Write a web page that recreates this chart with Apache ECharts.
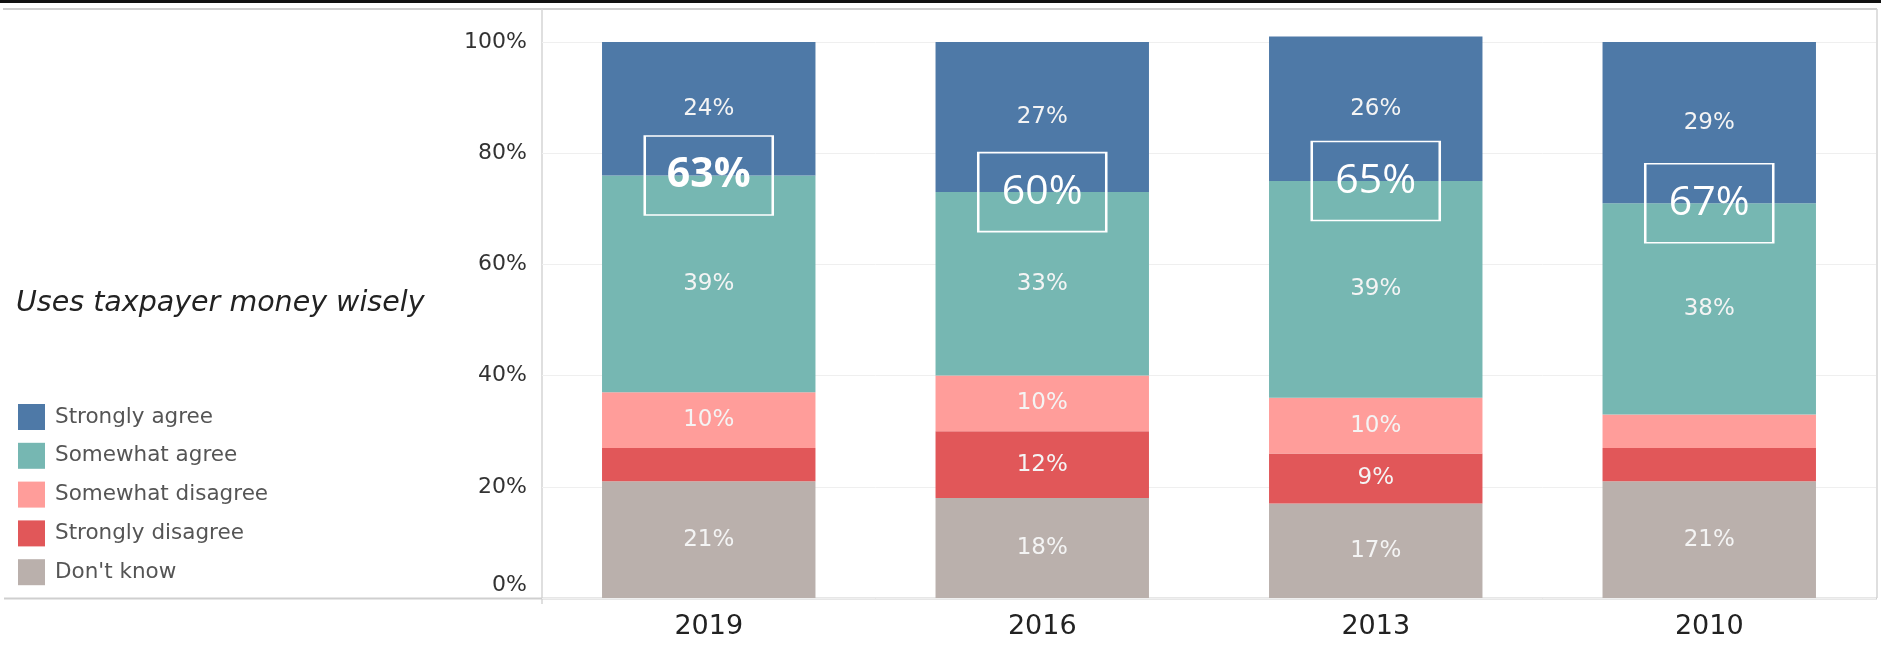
<!DOCTYPE html>
<html>
<head>
<meta charset="utf-8">
<script src="https://cdn.jsdelivr.net/npm/echarts@6/dist/echarts.min.js"></script>
<style>
html,body{margin:0;padding:0;background:#fff;}
#chart{width:1881px;height:650px;}
</style>
</head>
<body>
<div id="chart"></div>
<script>
// ---- data ----
const categories = ['2019', '2016', '2013', '2010'];
const dontKnow        = [21, 18, 17, 21];
const stronglyDisagree = [6, 12, 9, 6];
const somewhatDisagree = [10, 10, 10, 6];
const somewhatAgree   = [39, 33, 39, 38];
const stronglyAgree   = [24, 27, 26, 29];
const agreeTotals     = [63, 60, 65, 67];
const yTicks = [0, 20, 40, 60, 80, 100];
const titleText = 'Uses taxpayer money wisely';

const seriesDefs = [
  { name: "Don't know", data: dontKnow, color: '#bab0ac' },
  { name: 'Strongly disagree', data: stronglyDisagree, color: '#e15759' },
  { name: 'Somewhat disagree', data: somewhatDisagree, color: '#ff9d9a' },
  { name: 'Somewhat agree', data: somewhatAgree, color: '#76b7b2' },
  { name: 'Strongly agree', data: stronglyAgree, color: '#4e79a7' }
];

// position of the agree-box: boundary between somewhat and strongly agree
const boxPos = categories.map((c, i) =>
  dontKnow[i] + stronglyDisagree[i] + somewhatDisagree[i] + somewhatAgree[i]);

const chart = echarts.init(document.getElementById('chart'));

const series = seriesDefs.map(s => ({
  name: s.name,
  type: 'bar',
  stack: 'total',
  barWidth: '64%',
  clip: false,
  data: s.data,
  itemStyle: { color: s.color },
  label: {
    show: true,
    position: 'inside',
    color: '#f4f4f4',
    fontFamily: 'DejaVu Sans',
    fontSize: 23,
    formatter: p => (p.value >= 8 ? p.value + '%' : '')
  },
  emphasis: { disabled: true }
}));

series.push({
  name: 'agreeBox',
  type: 'scatter',
  symbol: 'rect',
  symbolSize: [128, 79],
  z: 10,
  itemStyle: { color: 'rgba(0,0,0,0)', borderColor: '#ffffff', borderWidth: 2, opacity: 1 },
  data: categories.map((c, i) => ({
    value: [i, boxPos[i], agreeTotals[i]],
    label: { fontWeight: i === 0 ? 'bold' : 'normal' }
  })),
  label: {
    show: true,
    position: 'inside',
    color: '#ffffff',
    fontFamily: 'Open Sans',
    fontSize: 41,
    formatter: p => p.value[2] + '%'
  },
  emphasis: { disabled: true },
  silent: true
});

const option = {
  animation: false,
  backgroundColor: '#ffffff',
  grid: { left: 542, right: 5, top: 42, bottom: 52 },
  legend: {
    left: 18,
    top: 404,
    padding: 0,
    orient: 'vertical',
    itemWidth: 27,
    itemHeight: 26,
    itemGap: 12.8,
    icon: 'rect',
    data: ['Strongly agree', 'Somewhat agree', 'Somewhat disagree', 'Strongly disagree', "Don't know"],
    textStyle: { fontFamily: 'DejaVu Sans', fontSize: 21.5, color: '#555', padding: [0, 0, 0, 5] },
    selectedMode: false
  },
  graphic: [
    { type: 'rect', shape: { x: 0, y: 0, width: 1881, height: 3 }, style: { fill: '#111' } },
    { type: 'line', shape: { x1: 3, y1: 9, x2: 1877, y2: 9 }, style: { stroke: '#cfcfcf', lineWidth: 2 } },
    { type: 'line', shape: { x1: 542, y1: 9, x2: 542, y2: 604 }, style: { stroke: '#d4d4d4', lineWidth: 1.5 } },
    { type: 'line', shape: { x1: 1877, y1: 9, x2: 1877, y2: 598 }, style: { stroke: '#d4d4d4', lineWidth: 1.5 } },
    { type: 'line', shape: { x1: 4, y1: 598.5, x2: 1877, y2: 598.5 }, style: { stroke: '#cfcfcf', lineWidth: 2 } },
    { type: 'text', left: 16, top: 289, style: { text: titleText, fontFamily: 'DejaVu Sans', fontStyle: 'italic', fontSize: 28.5, fill: '#222' } }
  ],
  xAxis: {
    type: 'category',
    data: categories,
    axisLine: { show: false },
    axisTick: { show: false },
    axisLabel: { margin: 15, fontFamily: 'DejaVu Sans', fontSize: 27, color: '#222' }
  },
  yAxis: {
    type: 'value',
    min: 0,
    max: 100,
    interval: 20,
    axisLine: { show: false },
    axisTick: { show: false },
    splitLine: { show: true, lineStyle: { color: '#efefef', width: 1 } },
    axisLabel: {
      margin: 15,
      fontFamily: 'DejaVu Sans',
      fontSize: 22,
      color: '#333',
      formatter: v => (yTicks.indexOf(v) >= 0 ? (v === 0 ? '{z|' + v + '%}' : v + '%') : ''),
      rich: { z: { fontFamily: 'DejaVu Sans', fontSize: 22, color: '#333', padding: [0, 0, 26, 0] } }
    }
  },
  series: series
};

chart.setOption(option);
</script>
</body>
</html>
